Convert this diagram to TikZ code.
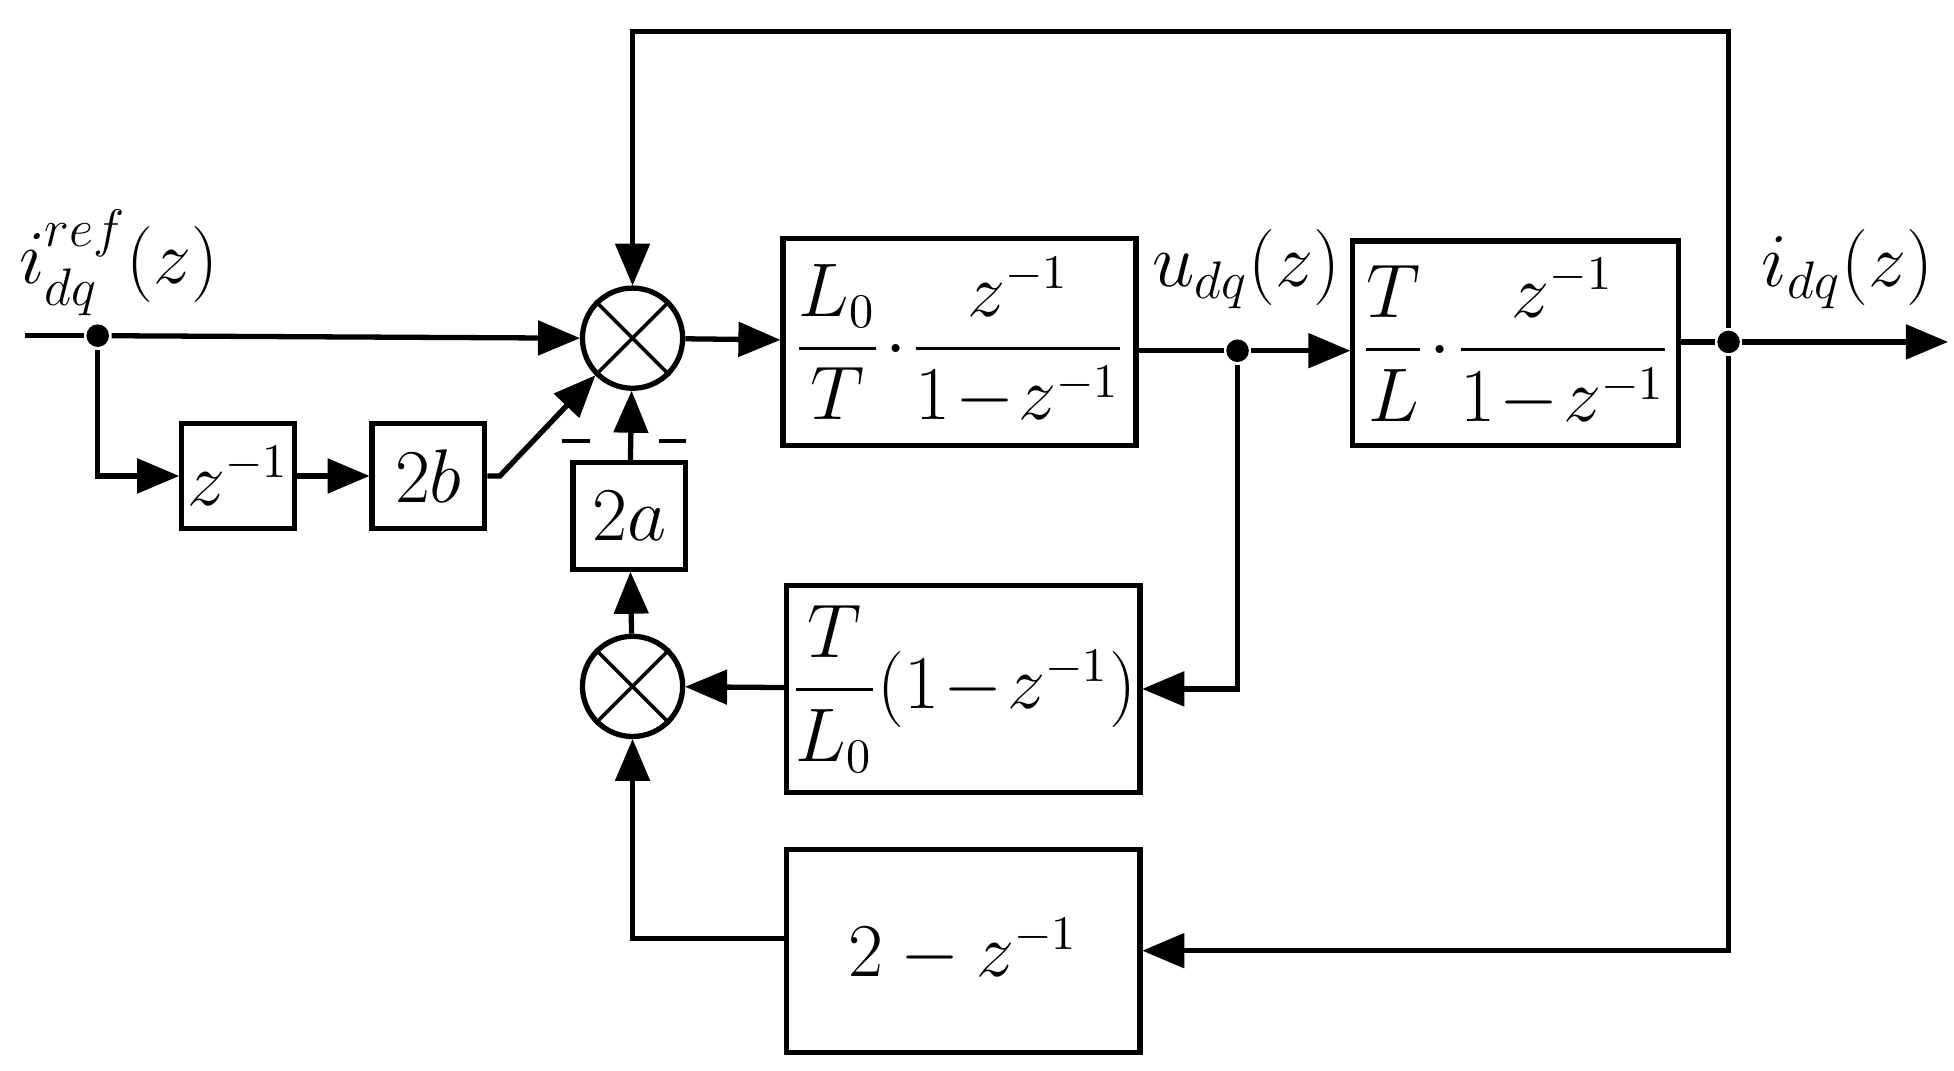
\documentclass[tikz,border=0pt]{standalone}
\usepackage{amsmath}
\usetikzlibrary{arrows,shapes,calc,positioning}
\tikzset{
    block/.style={
        rectangle,
        very thick,
        draw=black,
        inner sep=0pt,
        font=\fontsize{16}{19}\selectfont,
    },
    sum/.style={
        circle,
        very thick,
        draw=black,
        minimum size=8mm,
        inner sep=0pt,
    },
    dot/.style={
        circle,
        fill=black,
        minimum size=1.8mm,
        inner sep=0pt,
    },
}
\begin{document}
\begin{tikzpicture}[>=triangle 45,very thick,font=\fontsize{17}{21}\selectfont]
    \useasboundingbox (0,0) rectangle (15.6,8.55);
    % nodes
    \node [sum] (s1) at (5.05,5.85) {};
    \draw [thick] (s1.north west) -- (s1.south east) (s1.north east) -- (s1.south west);
    \node [sum] (s2) at (5.05,3.07) {};
    \draw [thick] (s2.north west) -- (s2.south east) (s2.north east) -- (s2.south west);
    \node [block,minimum width=0.9cm,minimum height=0.84cm] (zd) at (1.9,4.75) {$z^{-1}$};
    \node [block,minimum width=0.9cm,minimum height=0.84cm,font=\fontsize{19}{23}\selectfont] (b) at (3.42,4.75) {$2b$};
    \node [block,minimum width=0.9cm,minimum height=0.85cm,font=\fontsize{19}{23}\selectfont] (a) at (5.025,4.43) {$2a$};
    \node [block,minimum width=2.82cm,minimum height=1.65cm] (g1) at (7.66,5.82) {$\dfrac{L_0}{T}\!\cdot\!\dfrac{\;z^{-1}\;}{1\!-\!z^{-1}}$};
    \node [block,minimum width=2.6cm,minimum height=1.63cm] (g2) at (12.1,5.81) {$\dfrac{T}{L}\!\cdot\!\dfrac{\;z^{-1}\;}{1\!-\!z^{-1}}$};
    \node [block,minimum width=2.82cm,minimum height=1.65cm] (g3) at (7.69,3.05) {$\dfrac{T}{L_0}\!\left(1\!-\!z^{-1}\right)$};
    \node [block,minimum width=2.82cm,minimum height=1.62cm] (g4) at (7.69,0.96) {$2-z^{-1}$};
    \node [dot] (din) at (0.78,5.87) {};
    \node [dot] (du) at (9.88,5.75) {};
    \node [dot] (dout) at (13.8,5.82) {};
    \coordinate (in) at (0.2,5.87);
    \coordinate (out) at (15.55,5.82);
    % labels
    \node at (0.95,6.45) {$i_{dq}^{ref}\!\left(z\right)$};
    \node at (9.95,6.4) {$u_{dq}\!\left(z\right)$};
    \node at (14.75,6.4) {$i_{dq}\!\left(z\right)$};
    \node at (4.6,5.03) {\rule{0.22cm}{1pt}};
    \node at (5.37,5.03) {\rule{0.22cm}{1pt}};
    % connectors
    \draw (in) -- (din);
    \draw [->] (din) -- (s1.west);
    \draw [->] (din) |- (zd.west);
    \draw [->] (zd) -- (b);
    \draw [->] (b.east) -- ++(0.1,0) -- (s1.south west);
    \draw [->] (a) -- (s1);
    \draw [->] (s2) -- (a);
    \draw [->] (s1) -- (g1);
    \draw (g1.east |- du) -- (du);
    \draw [->] (du) -- (g2.west |- du);
    \draw [->] (du) |- (g3.east);
    \draw [->] (g3) -- (s2);
    \draw (g2.east |- dout) -- (dout);
    \draw [->] (dout) -- (out);
    \draw [->] (dout) |- (5.05,8.3) -- (s1.north);
    \draw [->] (dout) |- (g4.east);
    \draw [->] ($(g4.west)+(0,0.1)$) -| (s2.south);
\end{tikzpicture}
\end{document}
